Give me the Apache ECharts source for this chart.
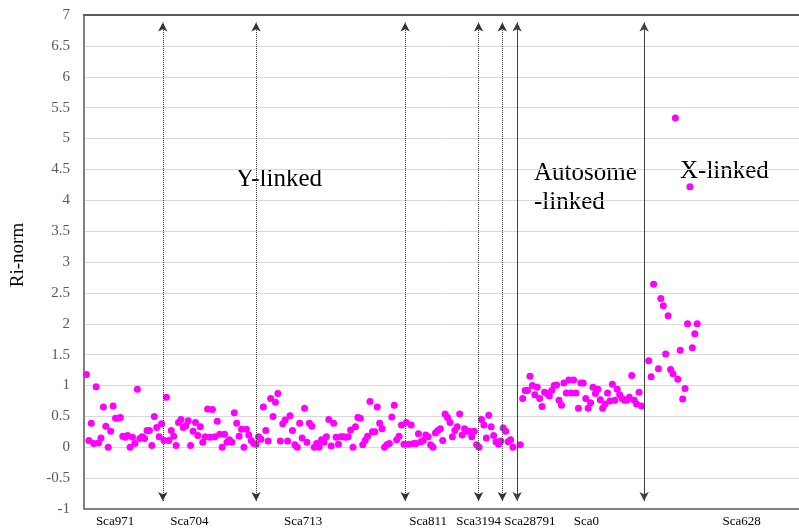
<!DOCTYPE html>
<html>
<head>
<meta charset="utf-8">
<script src="https://cdn.jsdelivr.net/npm/echarts@6/dist/echarts.min.js"></script>
<style>html,body{margin:0;padding:0;background:#fff}#c{width:799px;height:528px}</style>
</head>
<body>
<div id="c"></div>
<script>
// Ri-norm values, in window order along the scaffolds
const yLinked = [1.18,0.11,0.39,0.06,0.98,0.07,0.15,0.65,0.34,0.0,
  0.26,0.67,0.47,0.47,0.48,0.18,0.16,0.19,0.0,0.16,
  0.06,0.94,0.14,0.17,0.14,0.27,0.27,0.03,0.50,0.32,
  0.17,0.38,0.11,0.81,0.11,0.27,0.18,0.03,0.40,0.45,
  0.32,0.35,0.43,0.03,0.26,0.40,0.19,0.33,0.08,0.17,
  0.62,0.16,0.61,0.17,0.42,0.21,0.0,0.21,0.08,0.12,
  0.08,0.56,0.39,0.18,0.29,0.0,0.29,0.20,0.11,0.06,
  0.05,0.17,0.13,0.65,0.27,0.10,0.79,0.50,0.73,0.87,
  0.10,0.38,0.44,0.10,0.51,0.27,0.04,0.0,0.39,0.15,
  0.63,0.08,0.39,0.34,0.0,0.06,0.0,0.12,0.08,0.17,
  0.45,0.02,0.39,0.16,0.05,0.17,0.17,0.16,0.17,0.28,
  0.0,0.33,0.48,0.47,0.04,0.11,0.18,0.74,0.25,0.25,
  0.65,0.39,0.30,0.0,0.04,0.06,0.49,0.68,0.12,0.18,
  0.36,0.05,0.40,0.05,0.36,0.06,0.06,0.22,0.09,0.11,
  0.20,0.17,0.04,0.0,0.23,0.27,0.30,0.11,0.54,0.48,
  0.40,0.17,0.27,0.33,0.54,0.20,0.30,0.26,0.26,0.17,
  0.26,0.04,0.0,0.45,0.36,0.15,0.52,0.33,0.19,0.09,
  0.05,0.10,0.31,0.26,0.09,0.12,0.0];
const transition = [null,null,0.04];
const autosome = [0.79,0.92,0.92,1.15,1.0,0.85,0.97,0.79,0.66,0.89,
  0.87,0.83,0.92,1.0,1.01,0.76,0.68,1.04,0.88,1.09,
  0.88,1.09,0.88,0.63,1.04,1.04,0.79,0.63,0.72,0.97,
  0.87,0.94,0.77,0.63,0.70,0.88,0.75,1.02,0.76,0.94,
  0.85,0.79,0.76,0.76,0.81,1.16,0.76,0.70,0.89,0.67];
const gapX = [null,null];
const xLinked = [1.40,1.14,2.64,null,1.27,2.41,2.29,1.51,2.13,1.26,1.19,5.33,1.10,1.57,0.78,0.95,2.0,4.22,1.61,1.84,2.0];

// scaffold tick labels and their window positions
const scaffoldNames = ['Sca971','Sca704','Sca713','Sca811','Sca3194','Sca28791','Sca0','Sca628'];
const scaffoldPos = [11.8,42.5,89.4,141,161.8,183,206.3,270.3];

// region boundaries (window position, line style)
const boundaryPos = [31.5,70.0,131.5,161.8,171.6,177.7,230.1];
const boundaryType = ['dotted','dotted','dotted','dotted','dotted','solid','solid'];

const yTicks = {min:-1, max:7, interval:0.5};

const riNorm = [].concat(yLinked, transition, autosome, gapX, xLinked);
const points = [];
riNorm.forEach((v,i)=>{ if (v !== null) points.push([i, v]); });

const serif = "'Liberation Serif','Times New Roman',serif";
const nameMap = {};
scaffoldPos.forEach((p,i)=>{ nameMap[p] = scaffoldNames[i]; });

const chart = echarts.init(document.getElementById('c'), null, {renderer:'canvas'});
chart.setOption({
  animation:false,
  grid:{left:84, right:0, top:15, bottom:17},
  xAxis:[{
    type:'value', min:-1, max:294, position:'bottom',
    axisLine:{show:true, onZero:false, lineStyle:{color:'#808080', width:2}},
    axisTick:{show:false},
    splitLine:{show:false},
    axisLabel:{
      customValues: scaffoldPos,
      formatter:(v)=>nameMap[v] || '',
      color:'#000', fontFamily:serif, fontSize:13, margin:6
    }
  },{
    type:'value', min:-1, max:294, position:'top',
    axisLine:{show:true, onZero:false, lineStyle:{color:'#595959', width:2}},
    axisTick:{show:false}, axisLabel:{show:false}, splitLine:{show:false}
  }],
  yAxis:{
    type:'value', min:yTicks.min, max:yTicks.max, interval:yTicks.interval,
    name:'Ri-norm', nameLocation:'middle', nameGap:56, nameRotate:90,
    nameTextStyle:{color:'#000', fontFamily:serif, fontSize:19, padding:[0,0,0,14]},
    axisLine:{show:true, onZero:false, lineStyle:{color:'#808080', width:2}},
    axisTick:{show:false},
    axisLabel:{color:'#595959', fontFamily:serif, fontSize:15, margin:14},
    splitLine:{lineStyle:{color:'#d9d9d9', width:1}}
  },
  series:[{
    type:'scatter',
    data:points,
    symbolSize:7,
    itemStyle:{color:'#ff00ff', opacity:1},
    silent:true,
    markLine:{
      silent:true,
      symbol:['arrow','arrow'],
      symbolSize:[7,9],
      label:{show:false},
      emphasis:{disabled:true},
      data: boundaryPos.map((p,i)=>[
        {coord:[p,-0.87], lineStyle:{type:boundaryType[i], color: boundaryType[i]==='solid' ? '#404040' : '#333', width:1}},
        {coord:[p,6.88]}
      ])
    }
  }],
  graphic:[
    {type:'text', left:236, top:167, style:{text:'Y-linked', font:"25px "+serif, fill:'#000'}},
    {type:'text', left:534, top:159, style:{text:'Autosome\n-linked', font:"25px "+serif, fill:'#000', lineHeight:29}},
    {type:'text', left:680, top:159, style:{text:'X-linked', font:"25px "+serif, fill:'#000'}}
  ]
});
</script>
</body>
</html>
